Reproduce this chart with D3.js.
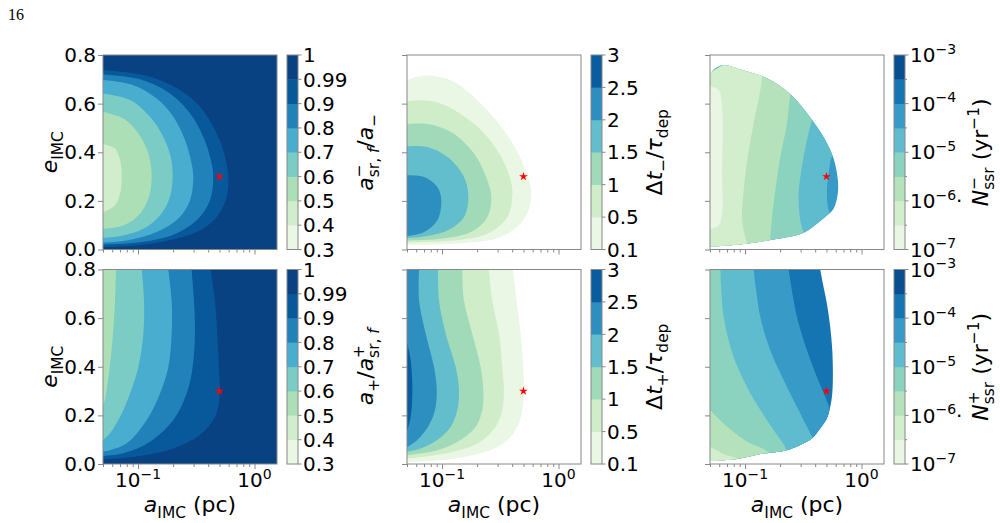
<!DOCTYPE html>
<html>
<head>
<meta charset="utf-8">
<script src="https://cdn.jsdelivr.net/npm/d3@7"></script>
<style>
body { margin: 0; background: #fff; }
text { font-family: "DejaVu Sans", sans-serif; fill: #000; }
</style>
</head>
<body>
<svg id="fig" width="1000" height="523"></svg>
<script>
// contour levels of each colorbar
const lv1 = [0.3, 0.4, 0.5, 0.6, 0.7, 0.8, 0.9, 0.99, 1];
const lv2 = [0.1, 0.5, 1, 1.5, 2, 2.5, 3];
const lv3 = [1e-7, 3.162e-7, 1e-6, 3.162e-6, 1e-5, 3.162e-5, 1e-4, 3.162e-4, 1e-3];
const logExp = [-7, -6, -5, -4, -3];

// contour lines, [a_IMC (pc), e_IMC]
// top-left: a-_sr,f / a-
const p1_099 = [[0.0504,0.738],[0.1267,0.711],[0.2291,0.656],[0.340,0.587],[0.4424,0.505],[0.5389,0.408],[0.5947,0.298],[0.5756,0.216],[0.4726,0.133],[0.3184,0.0715],[0.1543,0.030],[0.0799,0.014],[0.0504,0.0097]];
const p1_09 = [[0.0504,0.720],[0.1040,0.700],[0.1880,0.642],[0.2791,0.560],[0.3632,0.463],[0.4224,0.367],[0.4424,0.298],[0.4141,0.202],[0.3184,0.120],[0.2008,0.0606],[0.1040,0.030],[0.0504,0.021]];
const p1_08 = [[0.0504,0.697],[0.0911,0.676],[0.1445,0.621],[0.2008,0.546],[0.2529,0.450],[0.2884,0.353],[0.2981,0.298],[0.2791,0.202],[0.2217,0.127],[0.1445,0.0715],[0.0799,0.037],[0.0504,0.029]];
const p1_07 = [[0.0504,0.642],[0.0853,0.615],[0.1267,0.546],[0.1648,0.463],[0.1905,0.381],[0.1982,0.298],[0.1880,0.216],[0.1543,0.140],[0.1110,0.085],[0.0748,0.058],[0.0504,0.048]];
const p1_06 = [[0.0504,0.566],[0.0748,0.539],[0.1006,0.477],[0.1226,0.395],[0.1309,0.298],[0.1226,0.209],[0.1006,0.140],[0.0748,0.099],[0.0504,0.085]];
const p1_05 = [[0.0504,0.433],[0.0635,0.415],[0.0701,0.367],[0.0724,0.298],[0.0701,0.230],[0.0635,0.182],[0.0504,0.154]];

// top-middle: dt- / tau_dep
const p2_01 = [[0.0504,0.697],[0.0614,0.711],[0.0799,0.715],[0.1267,0.690],[0.229,0.587],[0.388,0.450],[0.546,0.298],[0.583,0.216],[0.498,0.120],[0.318,0.051],[0.1648,0.0275],[0.0853,0.0207],[0.0504,0.0193]];
const p2_05 = [[0.0504,0.610],[0.0656,0.614],[0.0973,0.601],[0.188,0.518],[0.298,0.408],[0.388,0.285],[0.401,0.216],[0.363,0.133],[0.2447,0.0646],[0.1267,0.037],[0.0504,0.029]];
const p2_1 = [[0.0504,0.516],[0.0748,0.516],[0.1186,0.484],[0.188,0.395],[0.2447,0.285],[0.2648,0.216],[0.2447,0.133],[0.176,0.0715],[0.0973,0.044],[0.0504,0.037]];
const p2_15 = [[0.0504,0.425],[0.0748,0.422],[0.111,0.381],[0.1543,0.298],[0.168,0.216],[0.1543,0.133],[0.111,0.0784],[0.0701,0.0537],[0.0504,0.048]];
const p2_2 = [[0.0504,0.305],[0.0701,0.298],[0.0911,0.257],[0.0985,0.202],[0.0911,0.120],[0.0701,0.0715],[0.0504,0.055]];

// top-right: N-_ssr, domain edge and level lines
const p3_dom = [[0.0504,0.722],[0.0556,0.745],[0.0656,0.758],[0.0973,0.736],[0.1543,0.704],[0.2447,0.639],[0.3632,0.543],[0.4884,0.450],[0.5756,0.374],[0.6270,0.285],[0.6229,0.223],[0.5756,0.168],[0.5046,0.140],[0.4141,0.106],[0.3184,0.069],[0.1760,0.041],[0.0973,0.023],[0.0504,0.012]];
const p3_65 = [[0.0504,0.670],[0.0594,0.656],[0.0635,0.587],[0.0635,0.312],[0.0635,0.147],[0.0594,0.099],[0.0504,0.085]];
const p3_60 = [[0.1445,0.8],[0.1398,0.707],[0.1353,0.656],[0.1186,0.518],[0.1053,0.381],[0.0973,0.243],[0.0942,0.133],[0.0973,0.078],[0.1040,0.026],[0.1053,0.0]];
const p3_55 = [[0.2791,0.8],[0.2613,0.683],[0.2447,0.635],[0.2291,0.518],[0.2008,0.381],[0.1819,0.243],[0.1704,0.133],[0.1648,0.040],[0.1648,0.0]];
const p3_50 = [[0.4424,0.8],[0.4141,0.587],[0.3752,0.532],[0.340,0.450],[0.308,0.340],[0.2884,0.230],[0.2981,0.120],[0.3184,0.069],[0.3632,0.0]];
const p3_45 = [[0.749,0.8],[0.5947,0.395],[0.5569,0.381],[0.5216,0.312],[0.5046,0.243],[0.5147,0.175],[0.5389,0.147],[0.749,0.0]];
const p3_tip = [[0.0504,0.752],[0.0656,0.760],[0.0594,0.749],[0.0538,0.736],[0.0504,0.727]];

// bottom-left: a+ / a+_sr,f
const p4_099 = [[0.4196,0.8],[0.4572,0.673],[0.4788,0.536],[0.4948,0.399],[0.5046,0.304],[0.4884,0.235],[0.4424,0.181],[0.340,0.119],[0.2008,0.064],[0.1040,0.033],[0.0504,0.019]];
const p4_09 = [[0.2884,0.8],[0.302,0.673],[0.308,0.536],[0.2942,0.399],[0.2613,0.290],[0.2008,0.181],[0.1267,0.092],[0.0748,0.044],[0.0504,0.033]];
const p4_08 = [[0.1819,0.8],[0.1943,0.673],[0.1943,0.536],[0.1819,0.399],[0.1543,0.290],[0.1186,0.181],[0.0799,0.085],[0.0575,0.057],[0.0504,0.052]];
const p4_07 = [[0.1075,0.8],[0.1126,0.673],[0.1110,0.536],[0.1006,0.399],[0.0853,0.290],[0.0701,0.194],[0.0575,0.126],[0.0504,0.099]];
const p4_06 = [[0.0647,0.8],[0.0635,0.673],[0.0606,0.522],[0.0567,0.386],[0.0531,0.290],[0.0504,0.238]];

// bottom-middle: dt+ / tau_dep
const p5_01 = [[0.406,0.8],[0.4367,0.673],[0.4726,0.536],[0.498,0.399],[0.5046,0.304],[0.4884,0.222],[0.4424,0.153],[0.340,0.085],[0.2145,0.044],[0.111,0.019],[0.0504,0.008]];
const p5_05 = [[0.2529,0.8],[0.270,0.673],[0.308,0.536],[0.329,0.399],[0.340,0.304],[0.329,0.222],[0.2884,0.153],[0.2145,0.092],[0.1267,0.051],[0.0701,0.030],[0.0504,0.023]];
const p5_1 = [[0.1493,0.8],[0.1543,0.673],[0.1819,0.536],[0.2145,0.399],[0.2260,0.304],[0.2217,0.222],[0.1943,0.153],[0.1445,0.099],[0.0911,0.057],[0.0504,0.037]];
const p5_15 = [[0.0923,0.8],[0.0942,0.673],[0.1075,0.536],[0.1309,0.399],[0.1398,0.304],[0.1353,0.222],[0.1186,0.153],[0.0911,0.099],[0.0656,0.064],[0.0504,0.051]];
const p5_2 = [[0.0635,0.8],[0.0635,0.673],[0.0724,0.536],[0.0853,0.399],[0.0900,0.304],[0.0870,0.222],[0.0758,0.153],[0.0614,0.099],[0.0504,0.071]];
const p5_25 = [[0.0504,0.495],[0.0538,0.427],[0.0556,0.304],[0.0538,0.194],[0.0504,0.140]];

// bottom-right: N+_ssr
const p6_dom = [[0.4424,0.8],[0.4664,0.741],[0.5046,0.659],[0.5389,0.563],[0.561,0.468],[0.568,0.372],[0.561,0.290],[0.5389,0.235],[0.5046,0.187],[0.4424,0.146],[0.3752,0.105],[0.2981,0.078],[0.2291,0.057],[0.1353,0.041],[0.0882,0.022],[0.0504,0.012]];
const p6_40 = [[0.2367,0.8],[0.2791,0.605],[0.340,0.468],[0.4141,0.358],[0.4884,0.276],[0.5389,0.222],[0.749,-0.025]];
const p6_45 = [[0.1186,0.8],[0.1353,0.605],[0.1648,0.468],[0.2145,0.345],[0.2791,0.235],[0.340,0.153],[0.388,0.099],[0.5046,-0.025]];
const p6_50 = [[0.0614,0.8],[0.0656,0.605],[0.0799,0.440],[0.1040,0.317],[0.1353,0.222],[0.1760,0.140],[0.2291,0.057],[0.2613,-0.025]];
const p6_55 = [[0.0472,0.235],[0.0701,0.153],[0.1040,0.092],[0.1543,0.051],[0.1760,-0.025]];
const p6_60 = [[0.0472,0.078],[0.0656,0.041],[0.0882,0.016],[0.0911,-0.025]];

// the marked system
const starPt = [0.5, 0.3];

const xMajor = [0.1, 1];
const xMinor = [0.05, 0.06, 0.07, 0.08, 0.09, 0.2, 0.3, 0.4, 0.5, 0.6, 0.7, 0.8, 0.9];
const yTicks = [0, 0.2, 0.4, 0.6, 0.8];

// layout
const W = 174, H = 194.5;
const colX = [103, 407, 710];
const rowY = [55, 269.5];
const FS = 20, LFS = 22;
const frameCol = "#888";

// each panel: levels, band under everything, and [line, band] painted left of line
const specs = [
    {r:0, c:0, lv:lv1, log:false, base:7, layers:[[p1_099,6],[p1_09,5],[p1_08,4],[p1_07,3],[p1_06,2],[p1_05,1]]},
    {r:0, c:1, lv:lv2, log:false, base:null, layers:[[p2_01,0],[p2_05,1],[p2_1,2],[p2_15,3],[p2_2,4]]},
    {r:0, c:2, lv:lv3, log:true, dom:p3_dom, base:5, layers:[[p3_45,4],[p3_50,3],[p3_55,2],[p3_60,1],[p3_65,0],[p3_tip,4]]},
    {r:1, c:0, lv:lv1, log:false, base:7, layers:[[p4_099,6],[p4_09,5],[p4_08,4],[p4_07,3],[p4_06,2]]},
    {r:1, c:1, lv:lv2, log:false, base:null, layers:[[p5_01,0],[p5_05,1],[p5_1,2],[p5_15,3],[p5_2,4],[p5_25,5]]},
    {r:1, c:2, lv:lv3, log:true, dom:p6_dom, base:6, layers:[[p6_40,5],[p6_45,4],[p6_50,3],[p6_55,2],[p6_60,1]]},
];

const gnbu = ["#f7fcf0","#e0f3db","#ccebc5","#a8ddb5","#7bccc4","#4eb3d3","#2b8cbe","#0868ac","#084081"];
const cmap = d3.scaleLinear().domain(gnbu.map((_, i) => i / 8)).range(gnbu);

// colour of each band: midpoint of the band through the norm of the levels
function bandColors(lv, log) {
    const f = log ? Math.log10 : (v => v);
    const lo = f(lv[0]), hi = f(lv[lv.length - 1]);
    return d3.range(lv.length - 1).map(i => cmap((f((lv[i] + lv[i + 1]) / 2) - lo) / (hi - lo)));
}

const smooth = d3.curveCatmullRom.alpha(0.5);
// region left of a contour line, closed along the left edge
function leftOf(pts, x, y) {
    const line = d3.line().x(d => x(d[0])).y(d => y(d[1])).curve(smooth);
    const x0 = x.range()[0] - 6;
    return line(pts) + `L${x0},${y(pts[pts.length - 1][1])}L${x0},${y(pts[0][1])}Z`;
}

// text with italic / sub / sup pieces, like mathtext
function mathText(sel, parts, fs) {
    const txt = sel.append("text").attr("font-size", fs);
    let cur = 0, lastLen = 0;
    parts.forEach(p => {
        const off = p.sub ? 0.26 * fs : p.sup ? -0.42 * fs : 0;
        const ts = txt.append("tspan").text(p.t).attr("dy", off - cur);
        if (p.sub || p.sup) ts.attr("font-size", 0.7 * fs);
        if (p.it) ts.attr("font-style", "italic");
        if (p.back) ts.attr("dx", -lastLen);
        cur = off;
        lastLen = ts.node().getComputedTextLength();
    });
    return txt;
}

const svg = d3.select("#fig");
const defs = svg.append("defs");

svg.append("text").attr("x", 8).attr("y", 20).attr("font-size", 16)
    .style("font-family", "'Liberation Serif', serif").text("16");

specs.forEach((s, k) => {
    const x0 = colX[s.c], y0 = rowY[s.r];
    const x = d3.scaleLog().domain([0.05, 1.56]).range([x0, x0 + W]);
    const y = d3.scaleLinear().domain([0, 0.8]).range([y0 + H, y0]);
    const cols = bandColors(s.lv, s.log);

    defs.append("clipPath").attr("id", "clip" + k)
        .append("rect").attr("x", x0).attr("y", y0).attr("width", W).attr("height", H);
    let g = svg.append("g").attr("clip-path", `url(#clip${k})`);
    if (s.dom) {
        defs.append("clipPath").attr("id", "dom" + k).append("path").attr("d", leftOf(s.dom, x, y));
        g = g.append("g").attr("clip-path", `url(#dom${k})`);
    }
    if (s.base != null) {
        g.append("rect").attr("x", x0 - 2).attr("y", y0 - 2).attr("width", W + 4).attr("height", H + 4)
            .attr("fill", cols[s.base]);
    }
    s.layers.forEach(([pts, b]) => {
        g.append("path").attr("d", leftOf(pts, x, y)).attr("fill", cols[b]);
    });

    // star
    svg.append("path")
        .attr("d", d3.symbol(d3.symbolStar, 24)())
        .attr("transform", `translate(${x(starPt[0])},${y(starPt[1])})`)
        .attr("fill", "red");

    // axes
    const ya = svg.append("g").attr("transform", `translate(${x0},0)`)
        .call(d3.axisLeft(y).tickValues(yTicks).tickSize(5).tickPadding(2)
            .tickFormat(s.c === 0 ? d3.format(".1f") : ""));
    const xa = svg.append("g").attr("transform", `translate(0,${y0 + H})`)
        .call(d3.axisBottom(x).tickValues(xMajor).tickSize(5).tickFormat(""));
    const xm = svg.append("g").attr("transform", `translate(0,${y0 + H})`)
        .call(d3.axisBottom(x).tickValues(xMinor).tickSize(3).tickFormat(""));
    [ya, xa, xm].forEach(a => {
        a.select(".domain").remove();
        a.selectAll("line").attr("stroke", frameCol);
        a.attr("font-size", FS).attr("font-family", "DejaVu Sans");
    });

    svg.append("rect").attr("x", x0).attr("y", y0).attr("width", W).attr("height", H)
        .attr("fill", "none").attr("stroke", frameCol).attr("stroke-width", 1);

    if (s.r === 1) {
        xMajor.forEach((v, i) => {
            mathText(svg.append("g").attr("transform", `translate(${x(v)},${y0 + H + 23})`),
                [{t: "10"}, {t: i === 0 ? "\u22121" : "0", sup: true}], FS).attr("text-anchor", "middle");
        });
        mathText(svg.append("g").attr("transform", `translate(${x0 + W / 2},512)`),
            [{t: "a", it: true}, {t: "IMC", sub: true}, {t: " (pc)"}], LFS).attr("text-anchor", "middle");
    }

    // colorbar
    const cx = x0 + 184, cw = 11, n = cols.length, bh = H / n;
    const cb = d3.scaleLinear().domain([0, n]).range([y0 + H, y0]);
    cols.forEach((c, i) => {
        svg.append("rect").attr("x", cx).attr("y", cb(i + 1)).attr("width", cw).attr("height", bh + 0.4).attr("fill", c);
    });
    svg.append("rect").attr("x", cx).attr("y", y0).attr("width", cw).attr("height", H)
        .attr("fill", "none").attr("stroke", frameCol);
    d3.range(n + 1).forEach(i => {
        const major = !s.log || i % 2 === 0;
        svg.append("line").attr("x1", cx + cw).attr("x2", cx + cw + (major ? 3.5 : 2))
            .attr("y1", cb(i)).attr("y2", cb(i)).attr("stroke", frameCol);
        if (!major) return;
        const gl = svg.append("g").attr("transform", `translate(${cx + cw + 5},${cb(i) + 0.36 * FS})`);
        if (s.log) {
            const parts = [{t: "10"}, {t: "\u2212" + Math.abs(logExp[i / 2]), sup: true}];
            if (logExp[i / 2] === -6) parts.push({t: "\u00b7"});
            mathText(gl, parts, FS);
        } else {
            gl.append("text").attr("font-size", FS).text(String(s.lv[i]));
        }
    });
});

// axis labels
const sgn = ["\u2212", "+"];
rowY.forEach((y0, r) => {
    const cy = y0 + H / 2;
    mathText(svg.append("g").attr("transform", `translate(57,${cy}) rotate(-90)`),
        [{t: "e", it: true}, {t: "IMC", sub: true}], LFS).attr("text-anchor", "middle");

    const midParts = r === 0
        ? [{t: "a", it: true}, {t: sgn[0], sup: true}, {t: "sr, ", sub: true, back: true}, {t: "f", sub: true, it: true},
           {t: "/"}, {t: "a", it: true}, {t: sgn[0], sub: true}]
        : [{t: "a", it: true}, {t: sgn[1], sub: true}, {t: "/"}, {t: "a", it: true}, {t: sgn[1], sup: true},
           {t: "sr, ", sub: true, back: true}, {t: "f", sub: true, it: true}];
    mathText(svg.append("g").attr("transform", `translate(373,${cy}) rotate(-90)`), midParts, LFS)
        .attr("text-anchor", "middle");

    mathText(svg.append("g").attr("transform", `translate(662,${cy}) rotate(-90)`),
        [{t: "\u0394"}, {t: "t", it: true}, {t: sgn[r], sub: true}, {t: "/"}, {t: "\u03c4", it: true}, {t: "dep", sub: true}],
        LFS).attr("text-anchor", "middle");

    mathText(svg.append("g").attr("transform", `translate(988,${cy}) rotate(-90)`),
        [{t: "N", it: true}, {t: sgn[r], sup: true}, {t: "ssr", sub: true, back: true}, {t: " (yr"},
         {t: "\u22121", sup: true}, {t: ")"}], LFS).attr("text-anchor", "middle");
});
</script>
</body>
</html>
